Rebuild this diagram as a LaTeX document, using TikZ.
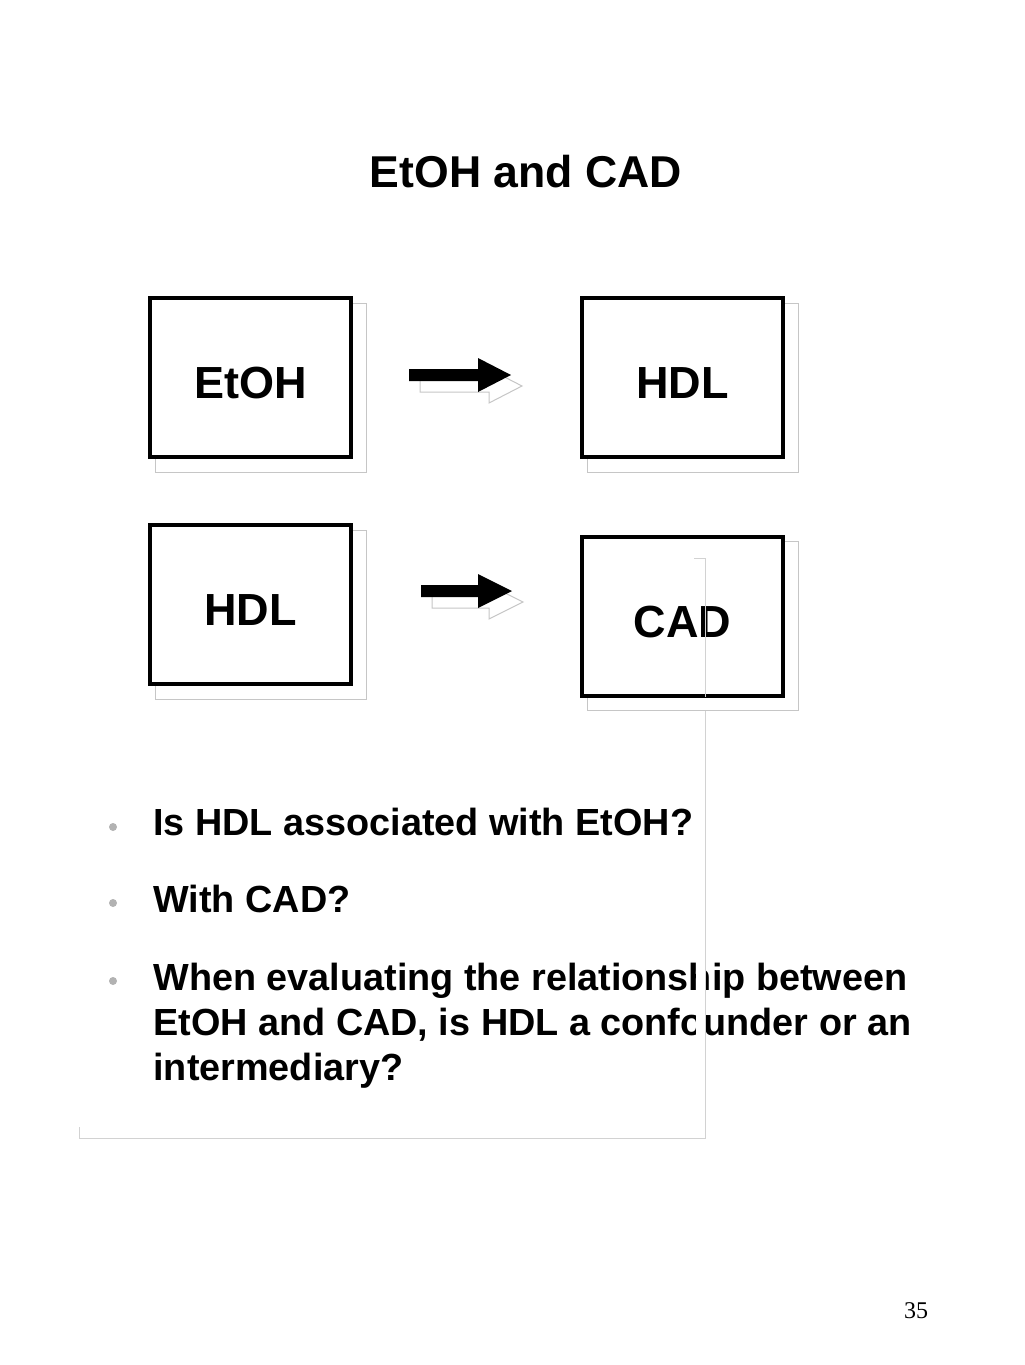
\documentclass[tikz,border=0pt]{standalone}
\usepackage{fontspec}
\setmainfont{Liberation Sans}
\newfontfamily\numfont{Liberation Serif}
\usetikzlibrary{calc}
\pgfdeclarelayer{back}
\pgfsetlayers{back,main}

\begin{document}
\begin{tikzpicture}
  [x=0.5pt,y=-0.5pt,
   varbox/.style={draw=black,line width=2pt,fill=white,minimum width=100.5pt,minimum height=79.5pt,
                  inner sep=0pt,font=\bfseries\fontsize{22.5}{27}\selectfont,text height=21pt,text depth=0pt},
   shadowline/.style={draw=gray!45,line width=0.5pt,fill=white},
   frameline/.style={draw=gray!35,line width=0.5pt},
   qtext/.style={anchor=base west,inner sep=0pt,font=\bfseries\fontsize{18.9}{22}\selectfont},
   bulletdot/.style={circle,fill=gray!60,inner sep=0pt,minimum size=4pt}]
  \useasboundingbox (0,0) rectangle (1024,1365);
  \node[anchor=base,font=\bfseries\fontsize{22.3}{27}\selectfont] (title) at (526,187) {EtOH and CAD};
  % 四个方框
  \foreach \n/\x/\y/\t in {etoh/250.5/377.5/EtOH, hdla/682.5/377.5/HDL, hdlb/250.5/604.5/HDL, cad/682.5/616/CAD}
    \node[varbox] (\n) at (\x,\y) {\t};
  \begin{pgfonlayer}{back}
    \foreach \n in {etoh,hdla,hdlb,cad} % 灰色阴影框
      \draw[shadowline] ($(\n.north west)+(7,7)$) rectangle ($(\n.south east)+(13,13)$);
  \end{pgfonlayer}
  % 粗箭头, 先画阴影再画黑色箭头
  \foreach \x/\y/\s/\l in {409/375/69/102, 421/591/57/91}
  {
    \draw[shadowline,shift={(\x+11,\y+11)}] (0,-6) -- (\s,-6) -- (\s,-17) -- (\l,0) -- (\s,17) -- (\s,6) -- (0,6) -- cycle;
    \fill[black,shift={(\x,\y)}] (0,-6) -- (\s,-6) -- (\s,-17) -- (\l,0) -- (\s,17) -- (\s,6) -- (0,6) -- cycle;
  }
  % 问题列表
  \foreach \y/\t [count=\i] in {835/Is HDL associated with EtOH?, 912/With CAD?, 990/When evaluating the relationship between, 1035/{EtOH and CAD, is HDL a confounder or an}, 1080/intermediary?}
    \node[qtext] (q\i) at (153,\y) {\t};
  \foreach \y [count=\i] in {827,903,981}
    \node[bulletdot] (b\i) at (113,\y) {};
  % 灰色细线框
  \fill[white] (696,955) rectangle (705,1050);
  \draw[frameline] (694,558) -- (705,558) -- (705,697);
  \draw[frameline] (705,711) -- (705,1138) -- (79,1138) -- (79,1127);
  \node[anchor=base,font=\numfont\fontsize{12}{14}\selectfont] (pagenum) at (916,1318) {35};
\end{tikzpicture}
\end{document}
